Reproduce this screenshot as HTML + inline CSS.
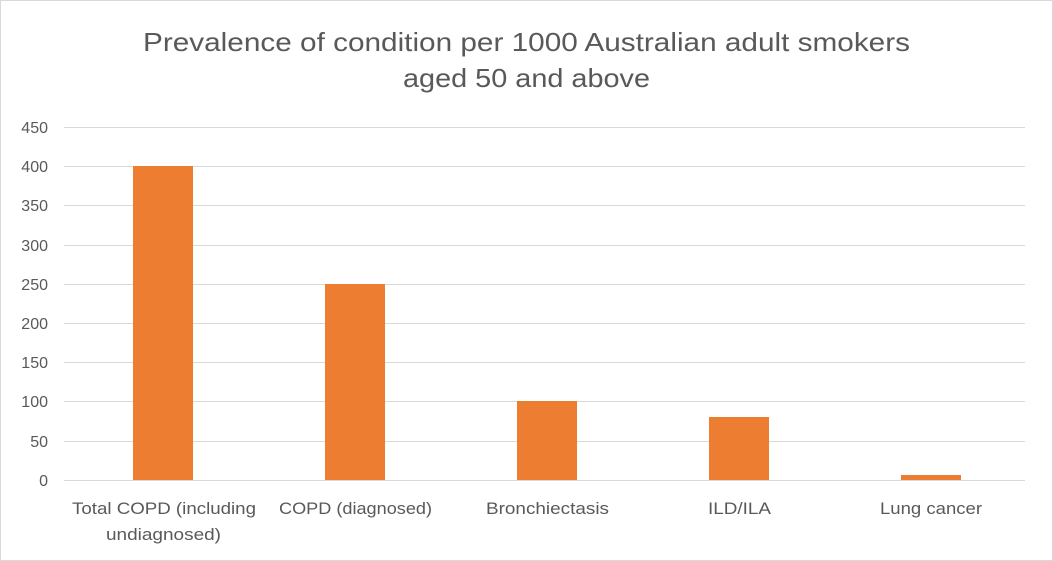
<!DOCTYPE html>
<html><head><meta charset="utf-8"><style>
body{margin:0;background:#fff;}
svg{display:block;font-family:"Liberation Sans",Calibri,sans-serif;}
</style></head><body>
<svg width="1053" height="561" viewBox="0 0 1053 561">
<rect x="0.5" y="0.5" width="1052" height="560" fill="#fff" stroke="#d9d9d9"/>
<text x="143" y="51" font-size="26" fill="#595959" textLength="767" lengthAdjust="spacingAndGlyphs">Prevalence of condition per 1000 Australian adult smokers</text>
<text x="403" y="87" font-size="26" fill="#595959" textLength="247" lengthAdjust="spacingAndGlyphs">aged 50 and above</text>
<g stroke="#d9d9d9" stroke-width="1">
<line x1="64" x2="1025" y1="127.5" y2="127.5"/>
<line x1="64" x2="1025" y1="166.5" y2="166.5"/>
<line x1="64" x2="1025" y1="205.5" y2="205.5"/>
<line x1="64" x2="1025" y1="245.5" y2="245.5"/>
<line x1="64" x2="1025" y1="284.5" y2="284.5"/>
<line x1="64" x2="1025" y1="323.5" y2="323.5"/>
<line x1="64" x2="1025" y1="362.5" y2="362.5"/>
<line x1="64" x2="1025" y1="401.5" y2="401.5"/>
<line x1="64" x2="1025" y1="441.5" y2="441.5"/>
<line x1="64" x2="1025" y1="480.5" y2="480.5"/>
</g>
<g font-size="16" fill="#595959" text-anchor="end">
<text x="48" y="133">450</text><text x="48" y="172">400</text><text x="48" y="211">350</text>
<text x="48" y="251">300</text><text x="48" y="290">250</text><text x="48" y="329">200</text>
<text x="48" y="368">150</text><text x="48" y="407">100</text><text x="48" y="447">50</text>
<text x="48" y="486">0</text>
</g>
<g fill="#ed7d31">
<rect x="133" y="166" width="60" height="314"/>
<rect x="325" y="284" width="60" height="196"/>
<rect x="517" y="401" width="60" height="79"/>
<rect x="709" y="417" width="60" height="63"/>
<rect x="901" y="475" width="60" height="5"/>
</g>
<g font-size="17" fill="#595959">
<text x="72" y="514" textLength="184" lengthAdjust="spacingAndGlyphs">Total COPD (including</text>
<text x="106" y="540" textLength="115" lengthAdjust="spacingAndGlyphs">undiagnosed)</text>
<text x="279" y="514" textLength="153" lengthAdjust="spacingAndGlyphs">COPD (diagnosed)</text>
<text x="486" y="514" textLength="123" lengthAdjust="spacingAndGlyphs">Bronchiectasis</text>
<text x="708" y="514" textLength="63" lengthAdjust="spacingAndGlyphs">ILD/ILA</text>
<text x="880" y="514" textLength="102" lengthAdjust="spacingAndGlyphs">Lung cancer</text>
</g>
</svg>
</body></html>
